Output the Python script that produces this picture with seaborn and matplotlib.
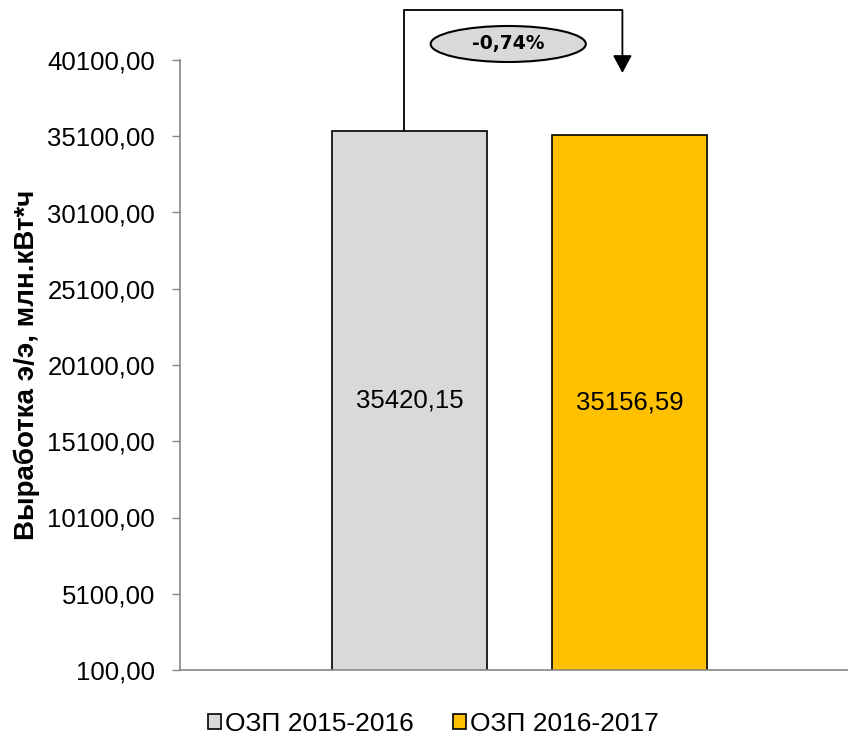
import numpy as np
import pandas as pd
import seaborn as sns
import matplotlib.pyplot as plt
from matplotlib.patches import Ellipse

# Data
seasons = ['ОЗП 2015-2016', 'ОЗП 2016-2017']
output_values = [35420.15, 35156.59]
bar_colors = ['#D9D9D9', '#FFC000']
y_ticks = np.arange(100, 40101, 5000)
y_label = 'Выработка э/э, млн.кВт*ч'

df = pd.DataFrame({'group': ['all', 'all'], 'season': seasons, 'value': output_values})

sns.set_style('white')
plt.rcParams['font.family'] = ['Liberation Sans', 'DejaVu Sans']
plt.rcParams['text.color'] = 'black'
plt.rcParams['ytick.labelcolor'] = 'black'

fig = plt.figure(figsize=(8.48, 7.36), dpi=100)
ax = fig.add_axes([180/848, 66/736, 668/848, 610/736])

sns.barplot(data=df, x='group', y='value', hue='season', palette=bar_colors,
            saturation=1, width=0.8, gap=0.295, edgecolor='black', linewidth=1.2, ax=ax)

ax.set_ylim(100, 40100)
ax.set_xlim(-0.617, 0.597)
ax.set_yticks(y_ticks)
ax.set_yticklabels([f'{t:.2f}'.replace('.', ',') for t in y_ticks], fontsize=18.5, color='black')
ax.set_xticks([])
ax.set_xlabel('')
ax.set_ylabel(y_label, fontsize=20, weight='bold', color='black')
ax.yaxis.set_label_coords(-0.2095, 0.5)
ax.tick_params(axis='y', length=6, width=1, color='#868686', pad=12, left=True)
for side in ['top', 'right']:
    ax.spines[side].set_visible(False)
for side in ['left', 'bottom']:
    ax.spines[side].set_color('#868686')
    ax.spines[side].set_linewidth(1.2)

# Value labels in the middle of the bars
bars = [c for cont in ax.containers for c in cont]
centers = []
for bar, val in zip(bars, output_values):
    cx = bar.get_x() + bar.get_width() / 2
    centers.append(cx)
    ax.text(cx, (val + 100) / 2, f'{val:.2f}'.replace('.', ','),
            ha='center', va='center', fontsize=18.5, color='black')

# Change annotation (bracket + arrow)
change = (output_values[1] / output_values[0] - 1) * 100
x1 = centers[0] - 0.01
x2 = centers[1] - 0.013
top = 43380
tip = 39250
ax.plot([x1, x1, x2], [output_values[0], top, top], color='black',
        lw=1.3, clip_on=False, solid_joinstyle='miter')
ax.annotate('', xy=(x2, tip), xytext=(x2, top),
            arrowprops=dict(arrowstyle='-|>,head_length=1.08,head_width=0.58',
                            color='black', lw=1.3, shrinkA=0, shrinkB=0),
            annotation_clip=False)
ex = (x1 + x2) / 2 - 0.009
ey = 41150
ell = Ellipse((ex, ey), width=0.282, height=2360, facecolor='#D9D9D9',
              edgecolor='black', lw=1.5, clip_on=False)
ax.add_patch(ell)
ax.text(ex, ey, f'{change:.2f}%'.replace('.', ','), ha='center', va='center',
        fontsize=13.5, weight='bold', family='DejaVu Sans', color='black')

# Legend at the bottom
handles, labels = ax.get_legend_handles_labels()
ax.get_legend().remove()
fig.legend(handles, labels, loc='center', bbox_to_anchor=(0.511, 12/736),
           ncol=2, frameon=False, fontsize=19, handlelength=0.49, handleheight=0.49,
           handletextpad=0.15, columnspacing=1.48, borderpad=0)

plt.savefig('out.png', dpi=100)
